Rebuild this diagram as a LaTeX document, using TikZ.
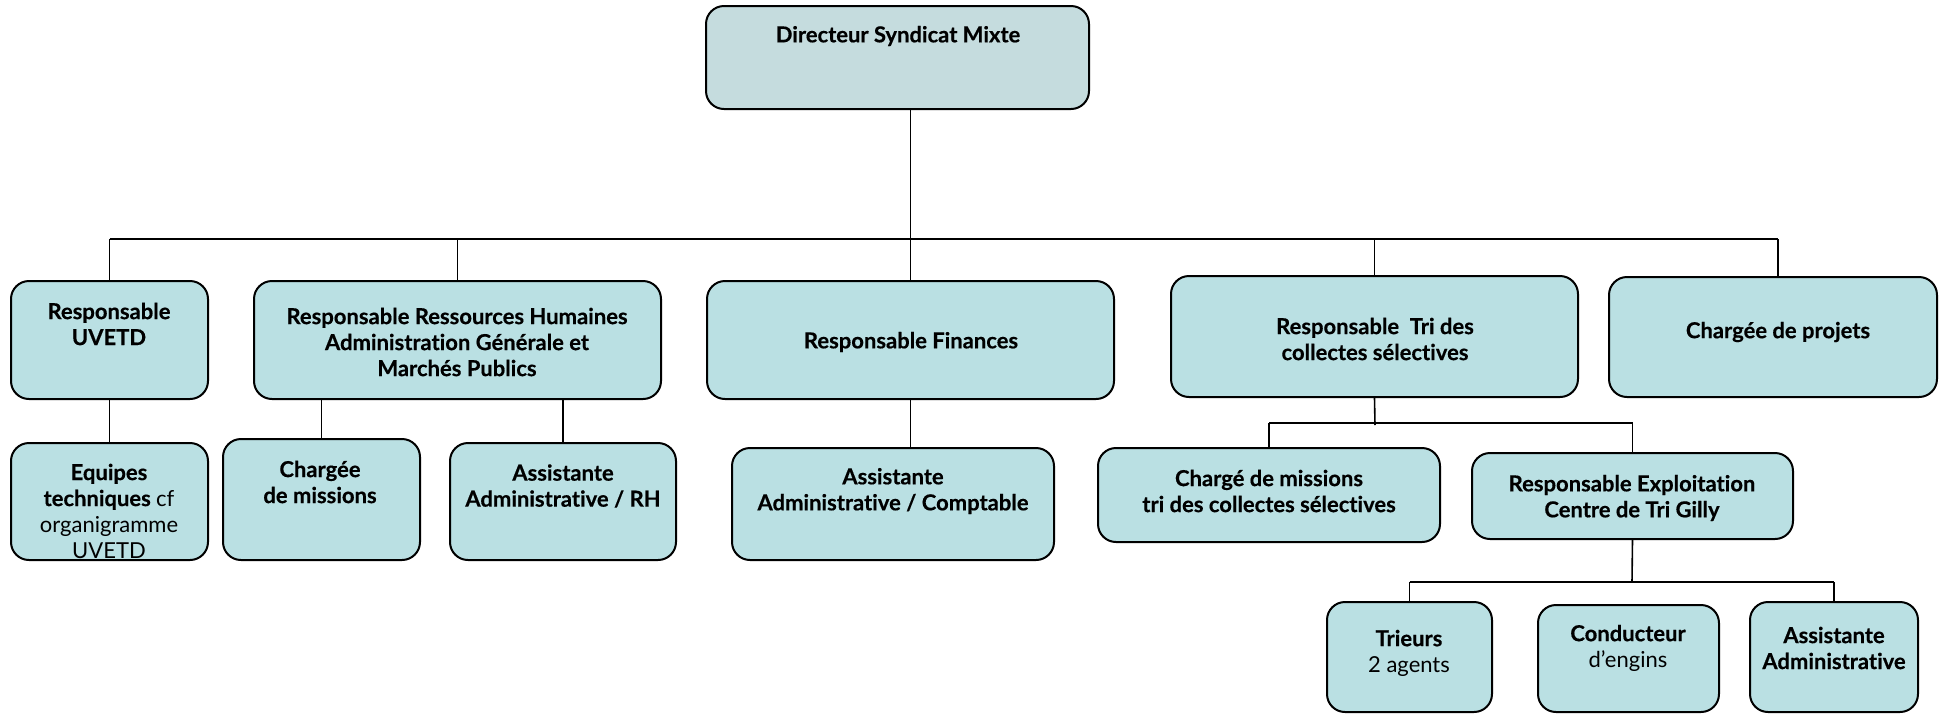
\documentclass[tikz,border=0pt]{standalone}
\usepackage{fontspec}
\setmainfont{Lato}[Ligatures=NoCommon, BoldFeatures={FakeBold=0.4}]
\usetikzlibrary{fit}
\definecolor{boxc}{RGB}{186,224,227}
\definecolor{topc}{RGB}{197,220,222}
\begin{document}
\begin{tikzpicture}[x=0.5pt,y=-0.5pt,
  box/.style={draw=black, line width=1pt, rounded corners=9pt, fill=boxc, inner sep=0pt},
  topbox/.style={box, fill=topc},
  txt/.style={align=center, font=\fontsize{11}{13}\selectfont\bfseries, inner sep=0pt},
  link/.style={line width=0.8pt}]
\useasboundingbox (0,0) rectangle (1940,714);
% boxes
\node[topbox, fit={(706,6) (1089,109)}] (dir) {};
\node[box, fit={(11,281) (208,399)}] (uvetd) {};
\node[box, fit={(254,281) (661,399)}] (rh) {};
\node[box, fit={(707,281) (1114,399)}] (fin) {};
\node[box, fit={(1171,276) (1578,397)}] (tri) {};
\node[box, fit={(1609,277) (1937,397)}] (proj) {};
\node[box, fit={(11,443) (208,560)}] (equ) {};
\node[box, fit={(223,439) (420,560)}] (chm) {};
\node[box, fit={(450,443) (676,560)}] (arh) {};
\node[box, fit={(732,448) (1054,560)}] (acomp) {};
\node[box, fit={(1098,448) (1440,542)}] (cmt) {};
\node[box, fit={(1472,453) (1793,539)}] (exp) {};
\node[box, fit={(1327,602) (1492,712)}] (trieurs) {};
\node[box, fit={(1538,605) (1719,712)}] (cond) {};
\node[box, fit={(1750,602) (1918,712)}] (asad) {};
% texts
\node[txt] (dir-t) at (898,36) {Directeur Syndicat Mixte};
\node[txt] (uvetd-t) at (109,324) {Responsable\\UVETD};
\node[txt] (rh-t) at (457,342) {Responsable Ressources Humaines\\Administration Générale et\\Marchés Publics};
\node[txt] (fin-t) at (911,342) {Responsable Finances};
\node[txt] (tri-t) at (1375,339) {Responsable\ \ Tri des\\collectes sélectives};
\node[txt] (proj-t) at (1778,332) {Chargée de projets};
\node[txt] (equ-t) at (109,511) {Equipes\\techniques \mdseries cf\\\mdseries organigramme\\\mdseries UVETD};
\node[txt] (chm-t) at (320,482) {Chargée\\de missions};
\node[txt] (arh-t) at (563,486) {Assistante\\Administrative / RH};
\node[txt] (acomp-t) at (893,491) {Assistante\\Administrative / Comptable};
\node[txt] (cmt-t) at (1269,491) {Chargé de missions\\tri des collectes sélectives};
\node[txt] (exp-t) at (1632,498) {Responsable Exploitation\\Centre de Tri Gilly};
\node[txt] (trieurs-t) at (1409,653) {Trieurs\\\mdseries 2 agents};
\node[txt] (cond-t) at (1628,648) {Conducteur\\\mdseries d’engins};
\node[txt] (asad-t) at (1834,648) {Assistante\\Administrative};
% connectors
\coordinate (barL) at (109,239);
\coordinate (barR) at (1778,239);
\coordinate (tbar) at (1375,423);
\coordinate (ebar) at (1632,582);
\draw[link] (dir.south -| fin.north) -- (fin.north);
\draw[link] (uvetd.north |- barL) -- (barR);
\foreach \n in {uvetd,rh,tri} \draw[link] (\n.north) -- (\n.north |- barL);
\draw[link] (barR) -- (barR |- proj.north);
\draw[link] (uvetd.south) -- (equ.north);
\draw[link] (rh.south -| chm.north) -- (chm.north);
\draw[link] (rh.south -| arh.north) -- (arh.north);
\draw[link] (fin.south) -- (fin.south |- acomp.north);
\draw[link] (tri.south) -- ([yshift=-1pt]tbar);
\draw[link] (cmt.north |- tbar) -- (exp.north |- tbar);
\draw[link] (cmt.north |- tbar) -- (cmt.north);
\draw[link] (exp.north |- tbar) -- (exp.north);
\draw[link] (exp.south) -- (ebar);
\draw[link] (trieurs.north |- ebar) -- (asad.north |- ebar);
\draw[link] (trieurs.north |- ebar) -- (trieurs.north);
\draw[link] (asad.north |- ebar) -- (asad.north);
\end{tikzpicture}
\end{document}
